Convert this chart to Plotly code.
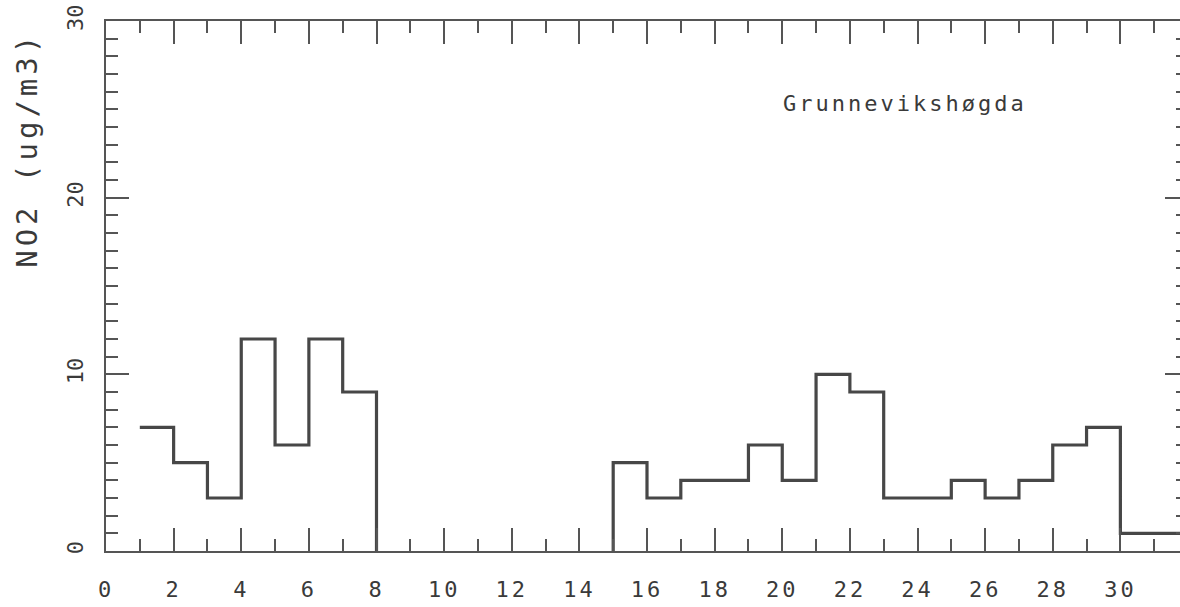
import plotly.graph_objects as go

# Daily NO2 values (ug/m3); None = no data (days 8-14)
days = list(range(1, 32))
no2 = [7, 5, 3, 12, 6, 12, 9,
       None, None, None, None, None, None, None,
       5, 3, 4, 4, 6, 4, 10, 9, 3, 3, 4, 3, 4, 6, 7, 1, 1]

station = "Grunnevikshøgda"
y_title = "NO2 (ug/m3)"
x_ticks = list(range(0, 31, 2))
y_ticks = [0, 10, 20, 30]

# Build a step path (each day's value held from day to day+1),
# dropping to zero around gaps in the record.
xs, ys = [], []
prev = None
for d, v in zip(days, no2):
    if v is None:
        if prev is not None:
            xs += [d, None]
            ys += [0, None]
        prev = None
        continue
    if prev is None and xs:
        xs.append(d)
        ys.append(0)
    xs += [d, d + 1]
    ys += [v, v]
    prev = v

fig = go.Figure()
fig.add_trace(go.Scatter(x=xs, y=ys, mode="lines",
                         line=dict(color="#474747", width=3.2),
                         connectgaps=False, hoverinfo="skip",
                         showlegend=False))
# invisible trace for right-hand tick axis
fig.add_trace(go.Scatter(x=[0], y=[0], yaxis="y2", mode="lines",
                         line=dict(width=0), showlegend=False,
                         hoverinfo="skip"))

axcol = "#555555"
tickfont = dict(family="DejaVu Sans Mono", size=22, color="#3a3a3a")

W = 1188  # plot runs slightly past the 1180 px window, as in the original
fig.update_layout(
    width=W, height=607,
    margin=dict(l=106, r=0, t=21, b=56, autoexpand=False),
    paper_bgcolor="white", plot_bgcolor="white",
    xaxis=dict(range=[0, 32], showgrid=False, zeroline=False,
               showline=True, linecolor=axcol, linewidth=1.5,
               mirror="ticks", automargin=False,
               tickmode="array", tickvals=x_ticks,
               ticktext=[f'<span style="letter-spacing:3px">{t}</span>' for t in x_ticks],
               ticks="inside", ticklen=23, tickwidth=1.5, tickcolor=axcol,
               minor=dict(ticks="inside", ticklen=12, tickwidth=1.5,
                          tickcolor=axcol, dtick=1, tick0=0),
               tickfont=tickfont, ticklabelstandoff=18),
    yaxis=dict(range=[0, 30], showgrid=False, zeroline=False,
               showline=True, linecolor=axcol, linewidth=1.5,
               automargin=False,
               tickmode="array", tickvals=y_ticks,
               ticks="inside", ticklen=23, tickwidth=1.5, tickcolor=axcol,
               minor=dict(ticks="inside", ticklen=12, tickwidth=1.5,
                          tickcolor=axcol, dtick=1, tick0=0),
               tickangle=-90, tickfont=tickfont, ticklabelstandoff=12),
    yaxis2=dict(range=[0, 30], overlaying="y", side="right",
                showgrid=False, zeroline=False, showline=False,
                automargin=False,
                tickmode="array", tickvals=y_ticks, showticklabels=False,
                ticks="inside", ticklen=23, tickwidth=1.5, tickcolor=axcol,
                minor=dict(ticks="inside", ticklen=12, tickwidth=1.5,
                           tickcolor=axcol, dtick=1, tick0=0)),
    annotations=[
        dict(text=f'<span style="letter-spacing:3px">{station}</span>',
             xref="paper", yref="paper", x=0.7385, y=0.845,
             xanchor="center", yanchor="middle", showarrow=False,
             font=dict(family="DejaVu Sans Mono", size=22, color="#3a3a3a")),
        dict(text=f'<span style="letter-spacing:4px">{y_title}</span>',
             xref="paper", yref="paper", x=-0.073, y=0.757,
             xanchor="center", yanchor="middle", showarrow=False,
             textangle=-90,
             font=dict(family="DejaVu Sans Mono", size=29, color="#3a3a3a")),
    ],
)

fig.write_html(
    "out.html",
    config={"displayModeBar": False},
    post_script="document.body.style.margin='0';document.body.style.overflow='hidden';",
)
